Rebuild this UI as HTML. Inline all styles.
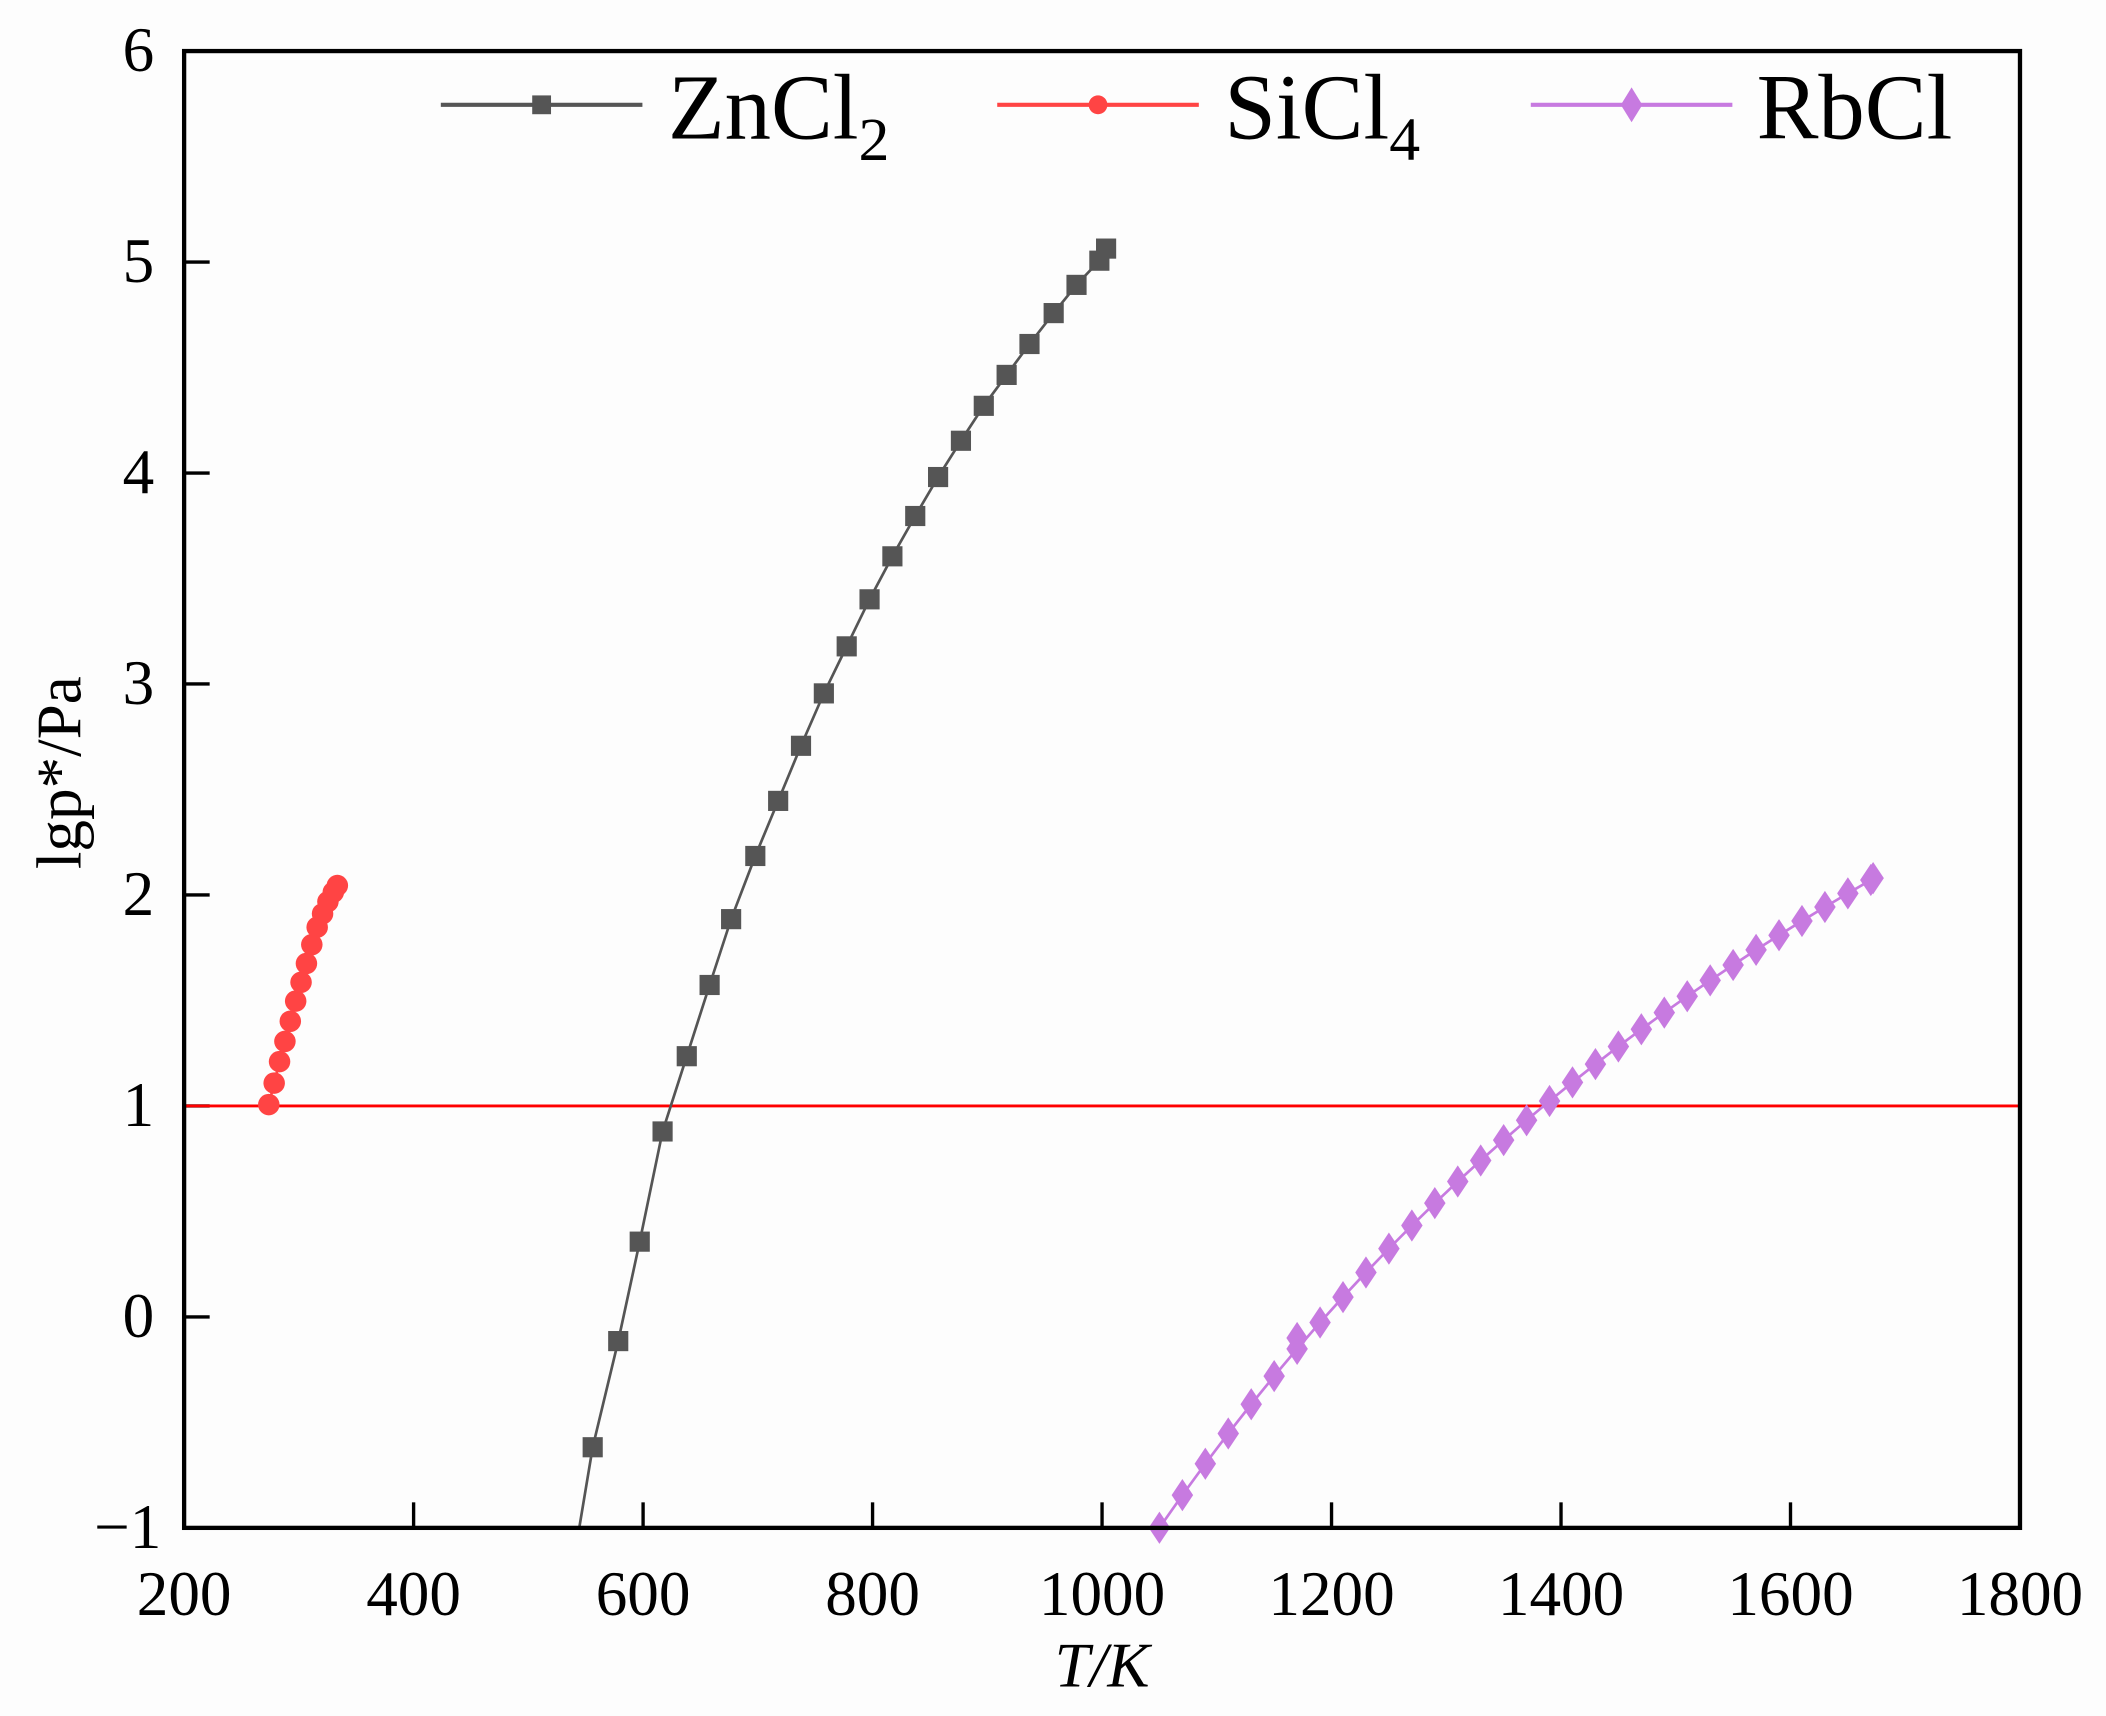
<!DOCTYPE html>
<html><head><meta charset="utf-8"><style>
html,body{margin:0;padding:0;background:#fdfdfd;}
svg{display:block;}
text{font-family:"Liberation Serif",serif;fill:#000;}
</style></head><body>
<svg id="s" width="2106" height="1716" viewBox="0 0 1567 1277" preserveAspectRatio="none" xmlns="http://www.w3.org/2000/svg">
<rect x="0" y="0" width="1567" height="1277" fill="#fdfdfd"/>
<g id="ticks" stroke="#000" stroke-width="2.5"></g>
<line x1="137" y1="823" x2="1503" y2="823" stroke="#ff0000" stroke-width="2.2"/>
<g id="data"></g>
<rect x="137" y="38" width="1366" height="1099" fill="none" stroke="#000" stroke-width="3.2"/>
<g id="labels" font-size="47" text-anchor="middle"></g>
<g font-size="69">
<line x1="328" y1="78" x2="478" y2="78" stroke="#555" stroke-width="3"/>
<rect x="396" y="71" width="14" height="14" fill="#555"/>
<text x="497" y="103">ZnCl<tspan font-size="46" dy="16">2</tspan></text>
<line x1="742" y1="78" x2="892" y2="78" stroke="#ff4444" stroke-width="3"/>
<circle cx="817" cy="78" r="7" fill="#ff4444"/>
<text x="911" y="103">SiCl<tspan font-size="46" dy="16">4</tspan></text>
<line x1="1139" y1="78" x2="1289" y2="78" stroke="#c77ae0" stroke-width="3"/>
<polygon points="1214,65 1222,78 1214,91 1206,78" fill="#c77ae0"/>
<text x="1307" y="103">RbCl</text>
</g>
<text x="0" y="0" font-size="47" text-anchor="middle" transform="translate(60,575) rotate(-90)">lgp*/Pa</text>
<text x="820" y="1255" font-size="47" text-anchor="middle" font-style="italic">T/K</text>
</svg>
<script>
var NS="http://www.w3.org/2000/svg";
function el(p,t,a){var e=document.createElementNS(NS,t);for(var k in a)e.setAttribute(k,a[k]);p.appendChild(e);return e;}
function X(T){return 137+(T-200)*1366/1600;}
function Y(v){return 1137-(v+1)*157;}
var tk=document.getElementById('ticks'),lb=document.getElementById('labels'),dg=document.getElementById('data');
for(var T=200;T<=1800;T+=200){var x=X(T);if(T>200&&T<1800)el(tk,'line',{x1:x,y1:1137,x2:x,y2:1118});var t=el(lb,'text',{x:x,y:1202});t.textContent=T;}
for(var v=-1;v<=6;v++){var y=Y(v);if(v>-1&&v<6)el(tk,'line',{x1:137,y1:y,x2:156,y2:y});var t=el(lb,'text',{x:(v<0?95:103),y:y+15});t.textContent=(v<0?'\u22121':v);}
var zn=[[441,1077],[460,998],[476,924],[493,842],[511,786],[528,733],[544,684],[562,637],[579,596],[596,555],[613,516],[630,481],[647,446],[664,414],[681,384],[698,355],[715,328],[732,302],[749,279],[766,256],[784,233],[801,212],[818,194],[823,185]];
var d='M431,1137';zn.forEach(function(p){d+=' L'+p[0]+','+p[1];});
el(dg,'path',{d:d,fill:'none',stroke:'#555',"stroke-width":2});
zn.forEach(function(p){el(dg,'rect',{x:p[0]-7.5,y:p[1]-7.5,width:15,height:15,fill:'#555'});});
var si=[[200,822],[204,806],[208,790],[212,775],[216,760],[220,745],[224,731],[228,717],[232,703],[236,690],[240,680],[244,671],[248,664],[251,659]];
d='';si.forEach(function(p,i){d+=(i?' L':'M')+p[0]+','+p[1];});
el(dg,'path',{d:d,fill:'none',stroke:'#ff4444',"stroke-width":2});
si.forEach(function(p){el(dg,'circle',{cx:p[0],cy:p[1],r:8,fill:'#ff4444'});});
var rb=[];for(var T=1050;T<=1670;T+=20){var v=7.27-8683/T;rb.push([X(T),Y(v)]);}
rb.push([X(1672),Y(2.08)]);
rb.push([X(1170),Y(-0.1)]);
d='';rb.slice(0,rb.length-1).forEach(function(p,i){d+=(i?' L':'M')+p[0]+','+p[1];});
el(dg,'path',{d:d,fill:'none',stroke:'#c77ae0',"stroke-width":2});
rb.forEach(function(p){var x=p[0],y=p[1];el(dg,'polygon',{points:(x)+','+(y-12)+' '+(x+8)+','+y+' '+x+','+(y+12)+' '+(x-8)+','+y,fill:'#c77ae0'});});
</script>
</body></html>
